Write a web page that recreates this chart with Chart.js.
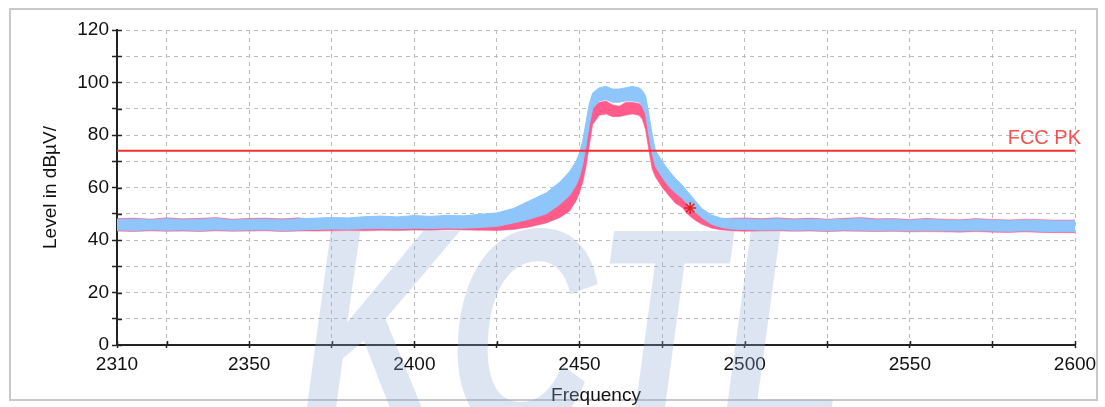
<!DOCTYPE html>
<html>
<head>
<meta charset="utf-8">
<script src="https://cdn.jsdelivr.net/npm/chart.js@4.4.1/dist/chart.umd.min.js"></script>
<style>
  html, body { margin: 0; padding: 0; background: #fff; }
</style>
</head>
<body>
<canvas id="spectrum" width="1105" height="407"></canvas>
<script>
// frequency points (MHz) the trace envelopes were read at
const freqs = [2310,2315,2320,2325,2330,2335,2340,2345,2350,2355,2360,2365,
  2370,2375,2380,2385,2390,2395,2400,2405,2410,2415,2420,2425,
  2430,2435,2440,2444,2447,2449,2450,2451,2452,2453,2454,
  2456,2458,2460,2462,2464,2466,2468,2469,2470,2471,2472,2473,
  2475,2477,2479,2481,2483,2485,2487,2490,2493,2496,2500,
  2505,2510,2515,2520,2525,2530,2535,2540,2545,2550,2555,2560,2565,2570,2575,2580,2585,2590,2595,2600];

// blue trace (upper / lower edge of the noise band), dBµV
const blueHi = [47.8,48.0,47.6,48.1,47.7,47.9,48.2,47.6,47.9,48.0,47.7,48.1,
  48.3,48.6,48.4,48.9,49.1,48.8,49.3,49.0,49.4,49.2,49.8,50.3,
  52.0,55.0,58.0,62,66,70,73,78,85,92,96,
  98.0,98.5,97.5,97.5,98.0,98.5,98.0,97,95,88,80,74,
  70,66.5,63.5,61,58,55,52,49.5,48.3,48,48,
  47.8,48.1,47.7,48.0,47.6,47.9,48.2,47.7,47.8,47.5,47.9,47.6,47.4,47.8,47.5,47.3,47.6,47.4,47.2,47.3];
const blueLo = [43.8,43.6,43.9,43.7,43.8,43.6,43.9,43.7,43.8,43.9,43.6,43.8,
  44.0,44.2,44.1,44.3,44.4,44.3,44.5,44.4,44.6,44.5,44.8,45.2,
  46.5,48,50,53.5,57,61,64,69,76,84,90,
  93,93.5,92.5,92.5,93,93,92.5,91,88,80,73,68,
  64,60.5,58,56,53.5,51,48.5,46,44.8,44.2,44.0,
  43.8,43.9,43.7,43.8,43.6,43.8,43.7,43.6,43.7,43.5,43.6,43.5,43.4,43.6,43.4,43.3,43.5,43.3,43.2,43.2];

// pink trace
const pinkHi = [48.15,48.35,47.95,48.45,48.05,48.25,48.55,47.95,48.25,48.35,48.05,48.45,
  47.5,47.3,47.2,47.4,47.3,47.2,47.5,47.4,47.3,47.5,47.2,47.0,
  47.5,49,51,54,58,63,66,72,80,87,91,
  92.5,93,91.5,91,92.5,92.5,92,91,89,82,74,70,
  66,62,59,56,53,50.5,48.5,47.5,48,48.3,48.4,
  48.15,48.45,48.05,48.35,47.95,48.25,48.55,48.05,48.15,47.85,48.25,47.95,47.75,48.15,47.85,47.65,47.95,47.75,47.55,47.65];
const pinkLo = [43.4,43.2,43.5,43.3,43.4,43.2,43.5,43.3,43.4,43.5,43.2,43.4,
  43.4,43.5,43.6,43.5,43.7,43.6,43.8,43.7,43.9,43.8,43.7,43.6,
  44,45,46.5,48.5,51,55,58,62,68,76,84,
  87.5,88,87,87,87.5,88,87.5,86,82,74,67,64,
  60,57,54,52.5,49.5,47.5,46,44.5,43.8,43.5,43.3,
  43.4,43.5,43.3,43.4,43.2,43.4,43.3,43.2,43.3,43.1,43.2,43.1,43.0,43.2,43.0,42.9,43.1,42.9,42.8,42.8];

const fccLimit = 74;
const markerFreq = [2483.5];
const markerLevel = [52.2];

const xTicks = [2310,2325,2350,2375,2400,2425,2450,2475,2500,2525,2550,2575,2600];
const yTicks = [0,10,20,30,40,50,60,70,80,90,100,110,120];

const blue = 'rgb(142,197,250)';
const pink = 'rgb(255,92,140)';

function pts(ys) {
  return freqs.map((f, i) => ({ x: f, y: ys[i] }));
}

const framePlugin = {
  id: 'frame',
  beforeDraw(chart) {
    const ctx = chart.ctx;
    ctx.save();
    ctx.fillStyle = '#fff';
    ctx.fillRect(0, 0, chart.width, chart.height);
    ctx.strokeStyle = '#c8c8c8';
    ctx.lineWidth = 2;
    ctx.strokeRect(10, 9, 1087, 391);
    ctx.restore();
  }
};

const extrasPlugin = {
  id: 'extras',
  afterDatasetsDraw(chart) {
    const ctx = chart.ctx;
    const xs = chart.scales.x, ys = chart.scales.y;
    const area = chart.chartArea;

    // limit label
    ctx.save();
    ctx.fillStyle = 'rgb(242,82,82)';
    ctx.font = '20px "Liberation Sans", Arial, sans-serif';
    ctx.textAlign = 'right';
    ctx.textBaseline = 'bottom';
    ctx.fillText('FCC PK', area.right + 6, ys.getPixelForValue(fccLimit) - 2);
    ctx.restore();

    // inner halves of the tick marks
    ctx.save();
    ctx.strokeStyle = '#222';
    ctx.lineWidth = 1.5;
    ctx.beginPath();
    yTicks.forEach(v => {
      const py = Math.round(ys.getPixelForValue(v)) + 0.5;
      ctx.moveTo(area.left, py);
      ctx.lineTo(area.left + 5, py);
    });
    xTicks.forEach(v => {
      const px = Math.round(xs.getPixelForValue(v)) + 0.5;
      ctx.moveTo(px, area.bottom);
      ctx.lineTo(px, area.bottom - 4);
    });
    ctx.stroke();
    ctx.restore();

    // watermark
    ctx.save();
    ctx.fillStyle = 'rgba(141,169,212,0.3)';
    ctx.translate(300, 432);
    ctx.scale(0.7, 1);
    ctx.font = 'italic bold 292px "Liberation Sans", Arial, sans-serif';
    ctx.textBaseline = 'alphabetic';
    ctx.fillText('KCTL', 0, 0);
    ctx.restore();
  }
};

const tickFont = { family: '"Liberation Sans", Arial, sans-serif', size: 19 };

new Chart(document.getElementById('spectrum'), {
  type: 'line',
  data: {
    datasets: [
      { label: 'pinkLo', data: pts(pinkLo), borderColor: pink, borderWidth: 0.5, pointRadius: 0, fill: false, order: 5 },
      { label: 'pinkHi', data: pts(pinkHi), borderColor: pink, backgroundColor: pink, borderWidth: 0.5, pointRadius: 0, fill: '-1', order: 4 },
      { label: 'blueLo', data: pts(blueLo), borderColor: blue, borderWidth: 1, pointRadius: 0, fill: false, order: 3 },
      { label: 'blueHi', data: pts(blueHi), borderColor: blue, backgroundColor: blue, borderWidth: 1, pointRadius: 0, fill: '-1', order: 2 },
      { label: 'FCC PK', data: [{ x: 2310, y: fccLimit }, { x: 2600, y: fccLimit }], borderColor: 'rgb(238,50,50)', borderWidth: 2, pointRadius: 0, fill: false, order: 1 },
      { label: 'marker', data: markerFreq.map((f, i) => ({ x: f, y: markerLevel[i] })), showLine: false, pointStyle: 'star', pointRadius: 6, borderColor: 'rgb(230,30,30)', borderWidth: 1.5, order: 0 }
    ]
  },
  options: {
    responsive: false,
    animation: false,
    devicePixelRatio: 1,
    layout: { padding: { left: 10, right: 30, top: 30, bottom: 0 } },
    plugins: { legend: { display: false }, tooltip: { enabled: false } },
    elements: { line: { tension: 0 } },
    scales: {
      x: {
        type: 'linear',
        min: 2310,
        max: 2600,
        afterBuildTicks: s => { s.ticks = xTicks.map(v => ({ value: v })); },
        afterFit: s => { s.height = 62; },
        ticks: {
          autoSkip: false,
          maxRotation: 0,
          padding: 5,
          color: '#111',
          font: tickFont,
          callback: v => (v === 2310 || v % 50 === 0) ? String(v) : ''
        },
        grid: { color: '#bdbdbd', lineWidth: 1, tickColor: '#222', tickLength: 3, tickWidth: 1.5 },
        border: { color: '#222', width: 2, dash: [4, 4] },
        title: { display: true, text: 'Frequency', color: '#111', font: tickFont, padding: { top: 0, bottom: 0 } }
      },
      y: {
        min: 0,
        max: 120,
        afterBuildTicks: s => { s.ticks = yTicks.map(v => ({ value: v })); },
        afterFit: s => { s.width = 107; },
        ticks: {
          padding: 3,
          color: '#111',
          font: tickFont,
          callback: v => (v % 20 === 0) ? String(v) : ''
        },
        grid: { color: '#bdbdbd', lineWidth: 1, tickColor: '#222', tickLength: 5, tickWidth: 1.5 },
        border: { color: '#222', width: 2, dash: [4, 4] },
        title: { display: true, text: 'Level in dBµV/', color: '#111', font: tickFont, padding: { top: 29, bottom: 0 } }
      }
    }
  },
  plugins: [framePlugin, extrasPlugin]
});
</script>
</body>
</html>
